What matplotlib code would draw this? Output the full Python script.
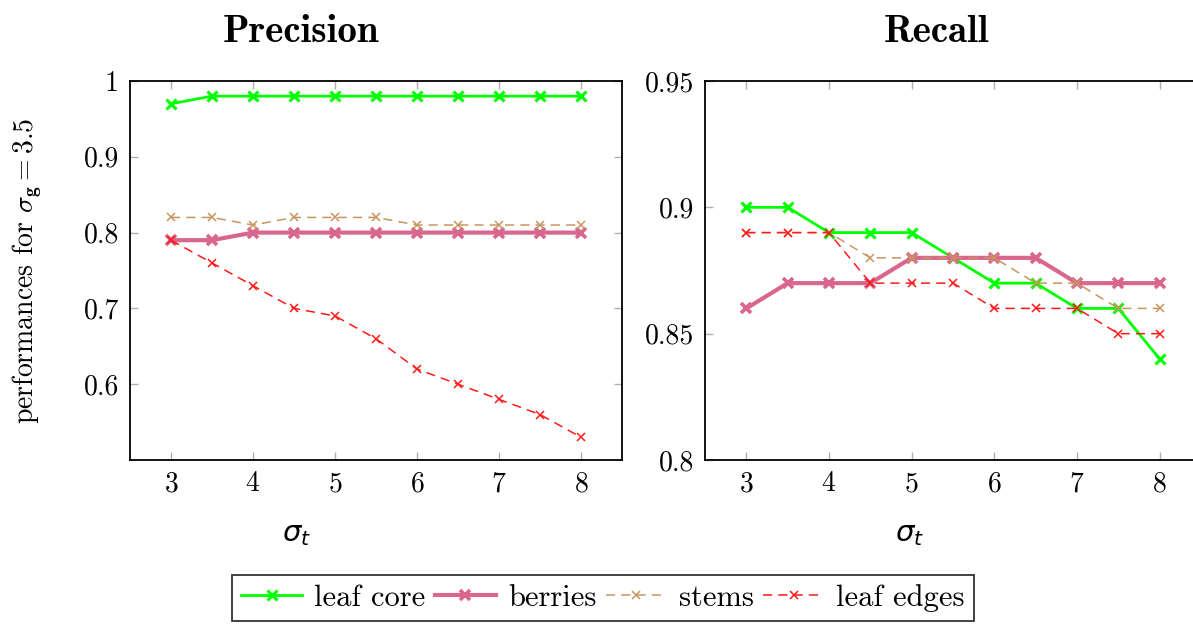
import numpy as np
import matplotlib.pyplot as plt
from matplotlib.ticker import FixedLocator, FixedFormatter

plt.rcParams['font.family'] = ['cmr10', 'DejaVu Serif']
plt.rcParams['mathtext.fontset'] = 'cm'
plt.rcParams['axes.unicode_minus'] = False
plt.rcParams['axes.formatter.use_mathtext'] = True

sigma_t = [3, 3.5, 4, 4.5, 5, 5.5, 6, 6.5, 7, 7.5, 8]

prec_leaf_core = [0.97, 0.98, 0.98, 0.98, 0.98, 0.98, 0.98, 0.98, 0.98, 0.98, 0.98]
prec_berries = [0.79, 0.79, 0.80, 0.80, 0.80, 0.80, 0.80, 0.80, 0.80, 0.80, 0.80]
prec_stems = [0.82, 0.82, 0.81, 0.82, 0.82, 0.82, 0.81, 0.81, 0.81, 0.81, 0.81]
prec_leaf_edges = [0.79, 0.76, 0.73, 0.70, 0.69, 0.66, 0.62, 0.60, 0.58, 0.56, 0.53]

rec_leaf_core = [0.90, 0.90, 0.89, 0.89, 0.89, 0.88, 0.87, 0.87, 0.86, 0.86, 0.84]
rec_berries = [0.86, 0.87, 0.87, 0.87, 0.88, 0.88, 0.88, 0.88, 0.87, 0.87, 0.87]
rec_stems = [0.89, 0.89, 0.89, 0.88, 0.88, 0.88, 0.88, 0.87, 0.87, 0.86, 0.86]
rec_leaf_edges = [0.89, 0.89, 0.89, 0.87, 0.87, 0.87, 0.86, 0.86, 0.86, 0.85, 0.85]

prec_ticks = [0.6, 0.7, 0.8, 0.9, 1.0]
prec_labels = ['0.6', '0.7', '0.8', '0.9', '1']
rec_ticks = [0.8, 0.85, 0.9, 0.95]
rec_labels = ['0.8', '0.85', '0.9', '0.95']
x_ticks = [3, 4, 5, 6, 7, 8]

names = ['leaf core', 'berries', 'stems', 'leaf edges']
colors = ['#00ff00', '#d9668f', '#c8955f', '#ff1a1a']


def draw(ax, series, title, yticks, ylabels, ylim, title_x, xlabel_x):
    styles = [
        dict(lw=2.0, ls='-', marker='x', ms=7, mew=2.2),
        dict(lw=3.0, ls='-', marker='x', ms=7, mew=2.6),
        dict(lw=1.1, ls=(0, (6, 4)), marker='x', ms=6, mew=1.1),
        dict(lw=1.1, ls=(0, (6, 4)), marker='x', ms=6, mew=1.1),
    ]
    lines = []
    for vals, c, name, st in zip(series, colors, names, styles):
        ln, = ax.plot(sigma_t, vals, color=c, label=name, **st)
        lines.append(ln)
    ax.set_xlim(2.5, 8.5)
    ax.set_ylim(*ylim)
    ax.xaxis.set_major_locator(FixedLocator(x_ticks))
    ax.yaxis.set_major_locator(FixedLocator(yticks))
    ax.yaxis.set_major_formatter(FixedFormatter(ylabels))
    ax.tick_params(direction='in', top=True, right=True, length=6,
                   color='#b0b0b0', width=1, labelsize=20, pad=8)
    for s in ax.spines.values():
        s.set_linewidth(1.3)
    ax.text(title_x, 1 + 49 / 379, title, transform=ax.transAxes,
            fontfamily='cmb10', fontsize=28, ha='center', va='center')
    ax.set_xlabel(r'$\sigma_t$', fontsize=21, math_fontfamily='dejavusans')
    ax.xaxis.set_label_coords(xlabel_x, -62 / 379)
    return lines


fig = plt.figure(figsize=(11.93, 6.25), dpi=100)
ax1 = fig.add_axes([130 / 1193, 1 - 460 / 625, 492 / 1193, 379 / 625])
ax2 = fig.add_axes([705 / 1193, 1 - 460 / 625, 496 / 1193, 379 / 625])

lines = draw(ax1, [prec_leaf_core, prec_berries, prec_stems, prec_leaf_edges],
             'Precision', prec_ticks, prec_labels, (0.5, 1.0), 0.348, 0.339)
draw(ax2, [rec_leaf_core, rec_berries, rec_stems, rec_leaf_edges],
     'Recall', rec_ticks, rec_labels, (0.8, 0.95), 0.466, 0.413)

ax1.set_ylabel(r'performances for $\sigma_{\mathbf{g}} = 3.5$', fontsize=20)
ax1.yaxis.set_label_coords(-86 / 492, 0.5)

leg = fig.legend(lines, names, loc='center', bbox_to_anchor=(603 / 1193, 1 - 598 / 625),
                 ncol=4, fontsize=22, frameon=True, fancybox=False, edgecolor='black',
                 handlelength=2.0, handletextpad=0.4, columnspacing=0.3,
                 borderpad=0.3, borderaxespad=0)
leg.get_frame().set_linewidth(1.3)

fig.savefig('out.png', dpi=100)
